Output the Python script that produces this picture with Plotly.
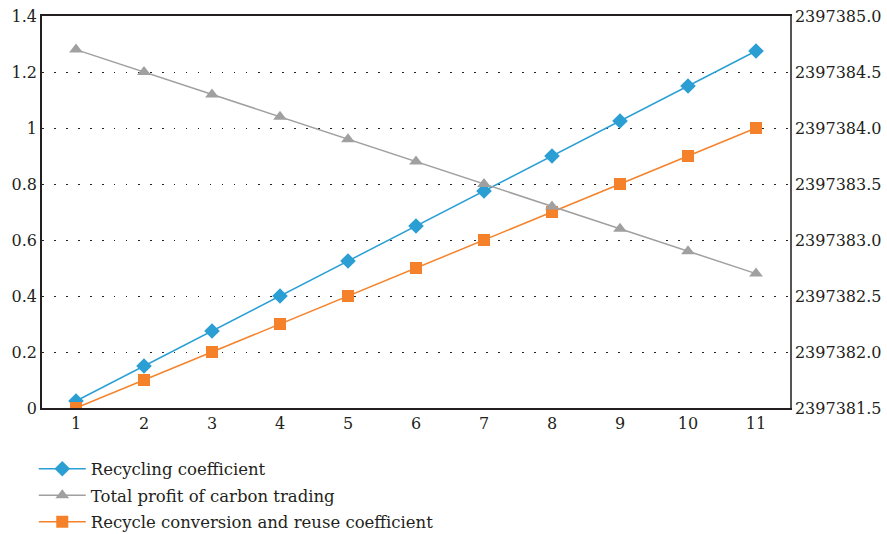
import plotly.graph_objects as go

x_vals = [1, 2, 3, 4, 5, 6, 7, 8, 9, 10, 11]
recycling_coef = [0.025, 0.15, 0.275, 0.4, 0.525, 0.65, 0.775, 0.9, 1.025, 1.15, 1.275]
reuse_coef = [0.0, 0.1, 0.2, 0.3, 0.4, 0.5, 0.6, 0.7, 0.8, 0.9, 1.0]
total_profit = [2397384.7, 2397384.5, 2397384.3, 2397384.1, 2397383.9, 2397383.7,
                2397383.5, 2397383.3, 2397383.1, 2397382.9, 2397382.7]
left_ticks = [0, 0.2, 0.4, 0.6, 0.8, 1.0, 1.2, 1.4]
left_labels = ["0", "0.2", "0.4", "0.6", "0.8", "1", "1.2", "1.4"]
right_ticks = [2397381.5, 2397382.0, 2397382.5, 2397383.0, 2397383.5,
               2397384.0, 2397384.5, 2397385.0]
right_labels = ["2397381.5", "2397382.0", "2397382.5", "2397383.0", "2397383.5",
                "2397384.0", "2397384.5", "2397385.0"]

FONT = "DejaVu Serif"
fig = go.Figure()
fig.add_trace(go.Scatter(x=x_vals, y=recycling_coef, name="Recycling coefficient",
                         legendgroup="a",
                         mode="lines+markers", line=dict(color="#2B9FD4", width=1.5),
                         marker=dict(symbol="diamond", size=12, color="#2B9FD4")))
fig.add_trace(go.Scatter(x=x_vals, y=total_profit, name="Total profit of carbon trading",
                         legendgroup="b",
                         yaxis="y2", mode="lines+markers", line=dict(color="#A0A0A0", width=1.5),
                         marker=dict(symbol="triangle-up", size=12, color="#A0A0A0")))
fig.add_trace(go.Scatter(x=x_vals, y=reuse_coef, name="Recycle conversion and reuse coefficient",
                         legendgroup="c",
                         mode="lines+markers", line=dict(color="#F5822A", width=1.5),
                         marker=dict(symbol="square", size=12, color="#F5822A")))

fig.update_layout(
    width=887, height=534,
    margin=dict(l=42, r=97, t=16, b=126, autoexpand=False),
    paper_bgcolor="white", plot_bgcolor="white",
    font=dict(family=FONT, size=16, color="#231F20"),
    showlegend=True,
    legend=dict(x=-0.011, y=-0.111, xanchor="left", yanchor="top", orientation="v",
                font=dict(family=FONT, size=16.5), bgcolor="rgba(0,0,0,0)",
                tracegroupgap=2, itemwidth=47),
    xaxis=dict(range=[0.5, 11.5], tickmode="array", tickvals=x_vals,
               ticktext=[str(v) for v in x_vals], showgrid=False, zeroline=False,
               showline=True, linecolor="#231F20", linewidth=1.5, mirror=True, ticks="",
               fixedrange=True, automargin=False),
    yaxis=dict(range=[0, 1.4], tickmode="array", tickvals=left_ticks, ticktext=left_labels,
               showgrid=True, gridcolor="#231F20", gridwidth=1.3, griddash="1.5px,10.5px",
               zeroline=False, showline=True, linecolor="#231F20", linewidth=1.5,
               ticks="", fixedrange=True, automargin=False),
    yaxis2=dict(range=[2397381.5, 2397385.0], overlaying="y", side="right",
                tickmode="array", tickvals=right_ticks, ticktext=right_labels,
                tickfont=dict(size=16),
                showgrid=False, zeroline=False, showline=True, linecolor="#555555",
                linewidth=1.5, ticks="", fixedrange=True, automargin=False),
)

fig.write_html("out.html", config={"displayModeBar": False},
               post_script="document.body.style.margin='0px';")
